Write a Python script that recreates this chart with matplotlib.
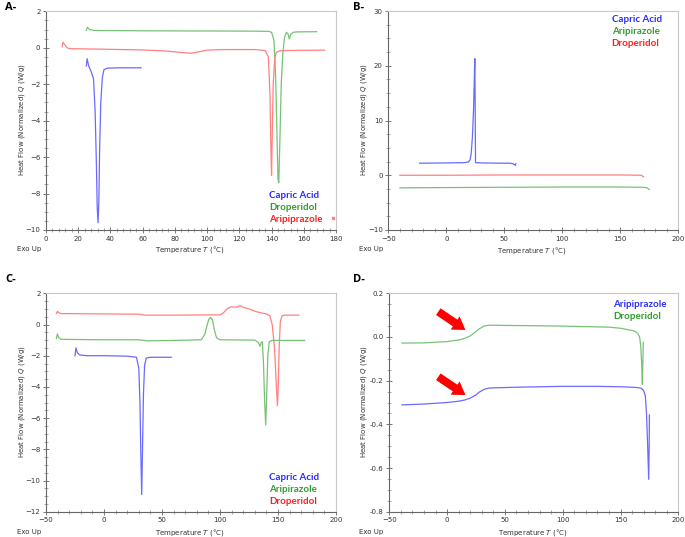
import matplotlib
matplotlib.use("Agg")
import matplotlib.pyplot as plt
from matplotlib.ticker import MultipleLocator, AutoMinorLocator, FormatStrFormatter

W, H = 685, 537

# ---------------- data ----------------
# Panel A
a_capric_x = [25.0, 25.5, 26.5, 28.0, 29.5, 30.5, 31.3, 31.8, 32.3, 32.8, 33.3, 34.0, 35.0, 36.0, 38.0, 45.0, 59.0]
a_capric_y = [-1.0, -0.6, -1.0, -1.3, -1.7, -3.5, -6.5, -8.8, -9.6, -8.5, -5.5, -3.0, -1.6, -1.2, -1.12, -1.1, -1.1]
a_drop_x = [25.0, 25.7, 27.0, 30, 60, 100, 130, 138, 140, 141.5, 142.5, 143.3, 144.0, 144.5, 145.2, 146, 147, 148,
            149.2, 150.3, 151.0, 152.0, 153.5, 156, 168]
a_drop_y = [0.95, 1.12, 1.0, 0.95, 0.93, 0.92, 0.91, 0.9, 0.85, 0.4, -1.5, -4.5, -7.2, -7.4, -5.0, -2.0, -0.3, 0.55,
            0.85, 0.75, 0.48, 0.75, 0.85, 0.87, 0.88]
a_arip_x = [10.0, 10.6, 11.5, 13, 15, 30, 60, 75, 85, 90, 95, 100, 110, 130, 136, 138, 139, 139.6, 140.0, 140.4,
            141, 142, 143, 145, 150, 173]
a_arip_y = [0.05, 0.3, 0.18, 0.0, -0.05, -0.07, -0.12, -0.18, -0.27, -0.3, -0.22, -0.13, -0.1, -0.1, -0.15, -0.5,
            -2.5, -5.5, -7.0, -5.0, -2.0, -0.6, -0.25, -0.17, -0.15, -0.13]
a_stray_x = [178.0]
a_stray_y = [-9.35]

# Panel B
b_capric_x = [-23, 0, 15, 19, 20.5, 21.5, 22.5, 23.5, 24.3, 24.6, 24.9, 25.2, 30, 45, 55, 57.5, 59, 59.5, 60]
b_capric_y = [2.2, 2.25, 2.3, 2.4, 2.8, 4.0, 7.0, 12.0, 19.0, 21.3, 12.0, 2.3, 2.25, 2.2, 2.2, 2.1, 1.9, 1.8, 2.1]
b_drop_x = [-40, 0, 50, 100, 150, 168, 169.5, 170]
b_drop_y = [0.0, 0.0, 0.05, 0.05, 0.05, 0.0, -0.2, -0.3]
b_arip_x = [-40, 0, 50, 100, 150, 170, 173, 175]
b_arip_y = [-2.3, -2.25, -2.2, -2.15, -2.15, -2.2, -2.3, -2.6]

# Panel C
c_drop_x = [-41, -40.2, -39, -37, 0, 30, 35, 60, 100, 103, 106, 109, 112, 115, 117, 118.5, 120, 125, 130, 135,
            140, 143, 145, 147, 148.5, 149.5, 150.2, 151, 152, 153.5, 156, 168]
c_drop_y = [0.7, 0.85, 0.75, 0.7, 0.68, 0.66, 0.6, 0.6, 0.62, 0.75, 1.0, 1.12, 1.12, 1.12, 1.2, 1.18, 1.1, 1.0,
            0.85, 0.75, 0.68, 0.55, 0.0, -1.5, -3.8, -5.2, -4.0, -1.5, 0.2, 0.55, 0.6, 0.6]
c_arip_x = [-41, -40.2, -39, -37, 0, 30, 37, 60, 84, 87, 89, 90.5, 92, 93.5, 95, 97, 100, 130, 133, 134.5, 135.5,
            136.5, 137.5, 138.5, 139.4, 140.3, 141.2, 142.5, 145, 173]
c_arip_y = [-0.9, -0.6, -0.85, -0.95, -0.98, -0.98, -1.05, -1.02, -0.98, -0.6, 0.0, 0.35, 0.46, 0.3, -0.3, -0.85,
            -0.98, -1.0, -1.15, -1.4, -1.15, -1.1, -2.5, -5.0, -6.44, -4.5, -2.0, -1.1, -1.02, -1.02]
c_capric_x = [-25, -24.2, -23, -21, -15, 0, 20, 28, 30, 31, 31.8, 32.5, 33.2, 34, 35, 36.5, 40, 58]
c_capric_y = [-2.0, -1.5, -1.8, -1.95, -2.0, -2.0, -2.03, -2.1, -2.8, -5.0, -8.5, -10.9, -8.0, -4.5, -2.6, -2.15,
              -2.1, -2.1]

# Panel D
d_drop_x = [-39, -20, 0, 10, 15, 20, 25, 28, 32, 35, 40, 50, 100, 140, 150, 155, 160, 163, 165, 166.5, 167.5,
            168.3, 168.9, 169.4, 169.7]
d_drop_y = [-0.028, -0.027, -0.021, -0.014, -0.007, 0.005, 0.025, 0.038, 0.05, 0.053, 0.054, 0.053, 0.05, 0.045,
            0.04, 0.035, 0.03, 0.025, 0.015, 0.0, -0.04, -0.12, -0.217, -0.1, -0.024]
d_arip_x = [-39, -20, 0, 10, 15, 20, 25, 28, 32, 36, 40, 60, 100, 130, 150, 160, 165, 168, 170, 171.5, 172.5,
            173.5, 174.4, 174.8, 175.0]
d_arip_y = [-0.311, -0.307, -0.3, -0.294, -0.289, -0.28, -0.265, -0.252, -0.24, -0.234, -0.233, -0.23, -0.226,
            -0.226, -0.228, -0.23, -0.232, -0.235, -0.245, -0.27, -0.35, -0.5, -0.652, -0.5, -0.357]
d_arrow_tail_x = [-7.6, -7.6]
d_arrow_tail_y = [0.116, -0.182]
d_arrow_tip_x = [15.9, 15.9]
d_arrow_tip_y = [0.032, -0.266]

BLUE = "#6a6aff"
GREEN = "#77c277"
RED = "#ff8080"
TBLUE = "#2b2bff"
TGREEN = "#2f9e2f"
TRED = "#ff1f1f"
TXT = "#333333"

fig = plt.figure(figsize=(W / 100, H / 100), dpi=100)
fig.patch.set_facecolor("white")


def make_ax(l, t, r, b, xlim, ylim, xmaj, ymaj):
    ax = fig.add_axes([l / W, 1 - b / H, (r - l) / W, (b - t) / H])
    ax.set_xlim(*xlim)
    ax.set_ylim(*ylim)
    ax.xaxis.set_major_locator(MultipleLocator(xmaj))
    ax.yaxis.set_major_locator(MultipleLocator(ymaj))
    ax.xaxis.set_minor_locator(AutoMinorLocator(5))
    ax.yaxis.set_minor_locator(AutoMinorLocator(4))
    for s in ["left", "bottom"]:
        ax.spines[s].set_color("#666666")
        ax.spines[s].set_linewidth(0.8)
    for s in ["top", "right"]:
        ax.spines[s].set_color("#c8c8c8")
        ax.spines[s].set_linewidth(0.8)
    ax.tick_params(which="major", direction="inout", length=4, width=0.6, colors="#666666",
                   labelsize=5, labelcolor=TXT, top=False, right=False, pad=2)
    ax.tick_params(which="minor", direction="inout", length=2.5, width=0.5, colors="#888888",
                   top=False, right=False)
    return ax


def ptext(px, py, s, **kw):
    fig.text(px / W, 1 - py / H, s, **kw)


def frame_texts(ox, letter_y, exo_y, temp_cx, ylab_x, ylab_cy):
    ptext(ox + 5, letter_y, "", fontsize=1)
    ptext(ox + 17, exo_y, "Exo Up", fontsize=5, color=TXT, va="center", ha="left")
    ptext(temp_cx, exo_y + 1, r"Temperature $\it{T}$ (°C)", fontsize=5, color=TXT, va="center", ha="center")
    ptext(ylab_x, ylab_cy, r"Heat Flow (Normalized) $\it{Q}$ (W/g)", fontsize=5, color=TXT,
          va="center", ha="center", rotation=90)


def letter(px, py, s):
    ptext(px, py, s, fontsize=8, fontweight="bold", family="Open Sans", va="center", ha="left")


def legend(px, py0, dy, items):
    for i, (s, c) in enumerate(items):
        ptext(px, py0 + i * dy, s, fontsize=7, fontweight="bold", family="Lato", color=c,
              va="center", ha="left")


lw = 0.9

# Panel A
axA = make_ax(46, 11.3, 336, 230, (0, 180), (-10, 2), 20, 2)
axA.plot(a_capric_x, a_capric_y, color=BLUE, lw=lw)
axA.plot(a_drop_x, a_drop_y, color=GREEN, lw=lw)
axA.plot(a_arip_x, a_arip_y, color=RED, lw=lw)
axA.plot(a_stray_x, a_stray_y, "s", color=RED, ms=1.5, clip_on=False)
letter(5, 8, "A-")
frame_texts(0, 8, 248.5, 190, 22, 120)
legend(269, 195, 12.4, [("Capric Acid", TBLUE), ("Droperidol", TGREEN), ("Aripiprazole", TRED)])

# Panel B
axB = make_ax(388.3, 11, 678.3, 230, (-50, 200), (-10, 30), 50, 10)
axB.plot(b_capric_x, b_capric_y, color=BLUE, lw=lw)
axB.plot(b_drop_x, b_drop_y, color=RED, lw=lw)
axB.plot(b_arip_x, b_arip_y, color=GREEN, lw=lw)
letter(353, 7, "B-")
frame_texts(342, 7, 249, 532, 364, 120)
legend(611.7, 19, 12, [("Capric Acid", TBLUE), ("Aripirazole", TGREEN), ("Droperidol", TRED)])

# Panel C
axC = make_ax(46, 293.3, 336, 511.7, (-50, 200), (-12, 2), 50, 2)
axC.plot(c_drop_x, c_drop_y, color=RED, lw=lw)
axC.plot(c_arip_x, c_arip_y, color=GREEN, lw=lw)
axC.plot(c_capric_x, c_capric_y, color=BLUE, lw=lw)
letter(5, 280, "C-")
frame_texts(0, 280, 532, 190, 22, 402)
legend(269.3, 477, 12.2, [("Capric Acid", TBLUE), ("Aripirazole", TGREEN), ("Droperidol", TRED)])

# Panel D
axD = make_ax(389.3, 293.3, 678.3, 511.7, (-50, 200), (-0.8, 0.2), 50, 0.2)
axD.yaxis.set_major_formatter(FormatStrFormatter("%.1f"))
axD.plot(d_drop_x, d_drop_y, color=GREEN, lw=lw)
axD.plot(d_arip_x, d_arip_y, color=BLUE, lw=lw)
for tx, ty, hx, hy in zip(d_arrow_tail_x, d_arrow_tail_y, d_arrow_tip_x, d_arrow_tip_y):
    axD.annotate("", xy=(hx, hy), xytext=(tx, ty),
                 arrowprops=dict(arrowstyle="simple,head_width=1.15,head_length=0.9,tail_width=0.58",
                                 color="#ff0000", mutation_scale=10, shrinkA=0, shrinkB=0, lw=0))
letter(353, 280, "D-")
frame_texts(342, 280, 532, 533, 364, 402)
legend(613.3, 304.3, 12.4, [("Aripiprazole", TBLUE), ("Droperidol", TGREEN)])

fig.savefig("out.png", dpi=100, facecolor="white")
